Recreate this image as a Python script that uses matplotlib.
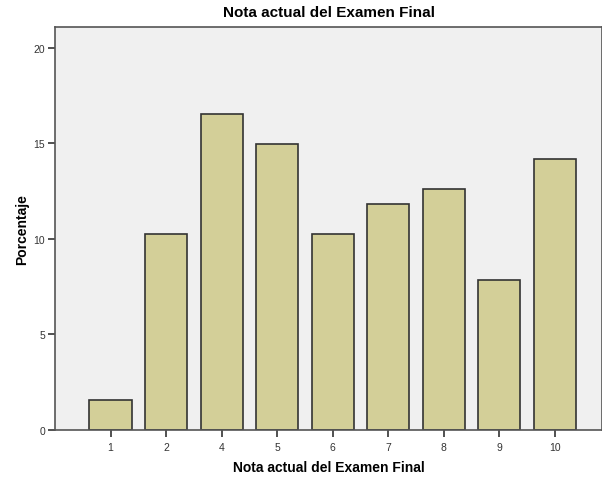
import matplotlib
matplotlib.use("Agg")
import matplotlib.pyplot as plt

plt.rcParams['font.family'] = ['Liberation Sans', 'DejaVu Sans']

notas = ['1', '2', '4', '5', '6', '7', '8', '9', '10']
porcentaje = [1.57, 10.24, 16.54, 14.96, 10.24, 11.81, 12.60, 7.87, 14.17]
y_ticks = [0, 5, 10, 15, 20]

fig = plt.figure(figsize=(6.02, 4.81), dpi=100)
ax = fig.add_axes([0.0914, 0.104, 0.9086, 0.838])
ax.set_facecolor('#F0F0F0')

pos = list(range(len(notas)))
ax.bar(pos, porcentaje, width=0.76, color='#D3CF98', edgecolor='#333333', linewidth=1.2)

ax.set_xlim(-1.0, 8.85)
ax.set_ylim(0, 21.1)
ax.set_xticks(pos)
ax.set_xticklabels(notas)
ax.set_yticks(y_ticks)
ax.tick_params(axis='both', direction='out', length=5, width=1.2, labelsize=7.5, colors='#333333')
ax.tick_params(axis='y', pad=2)

for side in ['left', 'bottom', 'top', 'right']:
    ax.spines[side].set_color('#555555')
    ax.spines[side].set_linewidth(1.2)

ax.set_title('Nota actual del Examen Final', fontsize=11, fontweight='bold', pad=8)
ax.set_xlabel('Nota actual del Examen Final', fontsize=10, fontweight='bold', labelpad=6)
ax.set_ylabel('Porcentaje', fontsize=10, fontweight='bold', labelpad=3)

fig.savefig('out.png', dpi=100)
